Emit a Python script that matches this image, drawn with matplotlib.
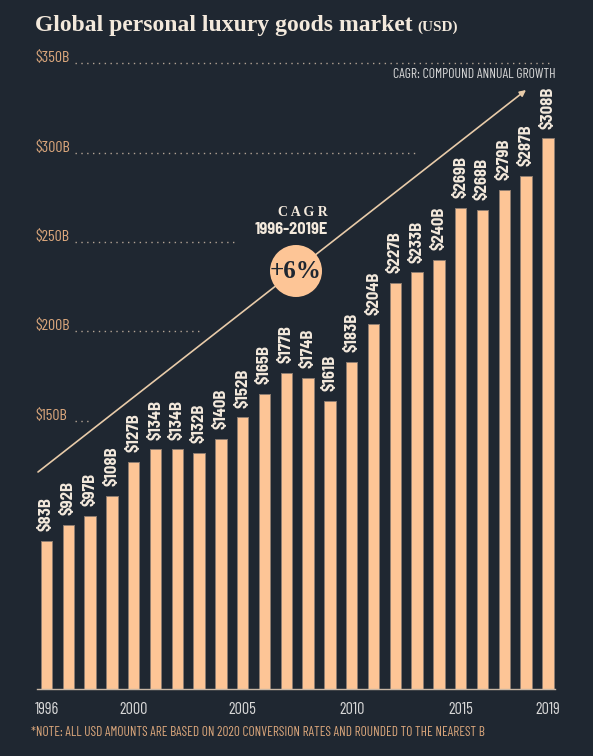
import matplotlib
matplotlib.use("Agg")
import matplotlib.pyplot as plt
from matplotlib import font_manager as fm
from matplotlib.patches import Ellipse

years = list(range(1996, 2020))
values = [83, 92, 97, 108, 127, 134, 134, 132, 140, 152, 165, 177, 174, 161,
          183, 204, 227, 233, 240, 269, 268, 279, 287, 308]
year_ticks = [1996, 2000, 2005, 2010, 2015, 2019]
grid_values = [150, 200, 250, 300, 350]
grid_labels = ["$150B", "$200B", "$250B", "$300B", "$350B"]

names = {f.name for f in fm.fontManager.ttflist}
def pick(cands, default):
    for c in cands:
        if c in names:
            return [c, default]
    return [default]

NARROW = pick(["Barlow Condensed", "Roboto Condensed", "Oswald", "PT Sans Narrow",
               "Archivo Narrow", "Liberation Sans Narrow"], "DejaVu Sans")
LABEL = pick(["Barlow Semi Condensed", "Barlow", "Roboto Condensed", "Liberation Sans"],
             "DejaVu Sans")
SERIF = pick(["Liberation Serif", "Tinos"], "DejaVu Serif")

BG = "#1f2731"
BAR = "#fdc596"
CREAM = "#f3e9dc"
TAN = "#dca77c"
GRAY = "#d8d8d8"

W, H = 593, 756
fig = plt.figure(figsize=(W / 100, H / 100), dpi=100, facecolor=BG)

base_py = 689
ppx = 21.8          # pixels per year
ppv = 1.788         # pixels per $B
x0 = 46.5           # pixel centre of first bar

ax = fig.add_axes([0, (H - base_py) / H, 1, base_py / H])
ax.set_facecolor(BG)
ax.set_xlim(1996 - x0 / ppx, 1996 + (W - x0) / ppx)
ax.set_ylim(0, base_py / ppv)
for s in ax.spines.values():
    s.set_visible(False)

def px2x(px):
    return 1996 + (px - x0) / ppx

# dotted gridlines
grid_ends = [92, 200, 235, 415, 553]
for v, lab, xe in zip(grid_values, grid_labels, grid_ends):
    ax.plot([px2x(75), px2x(xe)], [v, v], color="#b3a394", lw=1.0,
            linestyle=(0, (1, 3.2)), zorder=1)
    ax.text(px2x(35), v + 0.6, lab, color=TAN, fontsize=11.5, family=NARROW,
            fontweight="normal", ha="left", va="baseline")

bars = ax.bar(years, values, width=0.52, color=BAR, edgecolor="#8f7d70",
              linewidth=0.7, zorder=3)
ax.bar_label(bars, labels=[f"${v}B" for v in values], rotation=90, padding=7,
             color=CREAM, fontsize=12, fontweight="bold", family=LABEL)

ax.plot([px2x(37), px2x(555)], [0, 0], color="#c8b6a4", lw=1.0, zorder=4,
        clip_on=False)

ax.set_xticks(year_ticks)
ax.set_xticklabels([str(y) for y in year_ticks], family=NARROW, fontsize=11.8,
                   color=GRAY)
ax.tick_params(axis="x", length=0, pad=9)
ax.set_yticks([])

# arrow (figure pixels, origin bottom-left)
ax.annotate("", xy=(526, H - 90), xytext=(38, H - 472),
            xycoords="figure pixels", textcoords="figure pixels",
            arrowprops=dict(arrowstyle="-|>", color="#e8cba9", lw=1.2,
                            mutation_scale=9, shrinkA=0, shrinkB=0), zorder=2)

# CAGR circle
circ = Ellipse((296 / W, 1 - 271 / H), 52 / W, 52 / H, transform=fig.transFigure,
               facecolor=BAR, edgecolor="none", zorder=5)
fig.patches.append(circ)
fig.text(296 / W, 1 - 272 / H, "+6%", family=SERIF, fontweight="bold",
         fontsize=18, color=BG, ha="center", va="center", zorder=6)
fig.text(328 / W, 1 - 212 / H, "C A G R", family=SERIF, fontweight="bold",
         fontsize=10, color=CREAM, ha="right", va="center")
fig.text(328 / W, 1 - 229 / H, "1996-2019E", family=LABEL, fontweight="bold",
         fontsize=11.8, color=CREAM, ha="right", va="center")

# title & notes
fig.text(35 / W, 1 - 25 / H, "Global personal luxury goods market", family=SERIF,
         fontweight="bold", fontsize=17, color=CREAM, ha="left", va="center")
fig.text(417 / W, 1 - 27 / H, "(USD)", family=SERIF, fontweight="bold",
         fontsize=11, color=CREAM, ha="left", va="center")
fig.text(556 / W, 1 - 75 / H, "CAGR: COMPOUND ANNUAL GROWTH", family=NARROW,
         fontsize=9.9, color=GRAY, ha="right", va="center")
fig.text(31 / W, 1 - 732 / H,
         "*NOTE: ALL USD AMOUNTS ARE BASED ON 2020 CONVERSION RATES AND ROUNDED TO THE NEAREST B",
         family=NARROW, fontsize=9.6, color=TAN, ha="left", va="center")

fig.savefig("out.png", dpi=100, facecolor=BG)
